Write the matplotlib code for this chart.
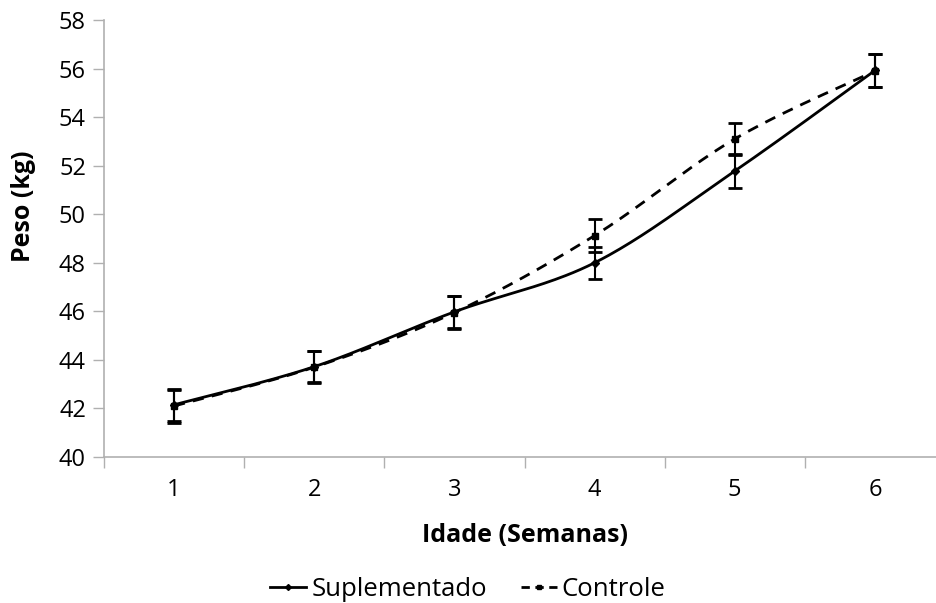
import numpy as np
import matplotlib
matplotlib.use("Agg")
from matplotlib import pyplot as plt
from matplotlib.lines import Line2D

semanas = [1, 2, 3, 4, 5, 6]
suplementado = [42.15, 43.72, 45.98, 48.0, 51.78, 55.92]
suplementado_err = [0.65, 0.65, 0.65, 0.65, 0.68, 0.68]
controle = [42.1, 43.7, 45.95, 49.12, 53.1, 55.9]
controle_err = [0.68, 0.65, 0.68, 0.68, 0.65, 0.68]


def suave(x, y, n=40):
    # curva suavizada tipo Excel (Catmull-Rom -> Bezier)
    x = np.asarray(x, float)
    y = np.asarray(y, float)
    px, py = [], []
    for i in range(len(x) - 1):
        x0, y0 = (x[i - 1], y[i - 1]) if i > 0 else (x[i], y[i])
        x3, y3 = (x[i + 2], y[i + 2]) if i + 2 < len(x) else (x[i + 1], y[i + 1])
        c1x = x[i] + (x[i + 1] - x0) / 6
        c1y = y[i] + (y[i + 1] - y0) / 6
        c2x = x[i + 1] - (x3 - x[i]) / 6
        c2y = y[i + 1] - (y3 - y[i]) / 6
        t = np.linspace(0, 1, n)
        px.extend((1 - t) ** 3 * x[i] + 3 * (1 - t) ** 2 * t * c1x + 3 * (1 - t) * t ** 2 * c2x + t ** 3 * x[i + 1])
        py.extend((1 - t) ** 3 * y[i] + 3 * (1 - t) ** 2 * t * c1y + 3 * (1 - t) * t ** 2 * c2y + t ** 3 * y[i + 1])
    return px, py


plt.rcParams['font.family'] = ['Open Sans', 'DejaVu Sans']

fig = plt.figure(figsize=(9.36, 6.03), dpi=100)
ax = fig.add_axes([104 / 936, 1 - 457 / 603, (945 - 104) / 936, (457 - 20) / 603])

sx, sy = suave(semanas, suplementado)
ax.plot(sx, sy, color='black', lw=2.0, zorder=3)
cx, cy = suave(semanas, controle)
ax.plot(cx, cy, color='black', lw=2.0, ls=(0, (4, 3)), zorder=3)

ax.errorbar(semanas, suplementado, yerr=suplementado_err, fmt='D', ms=4, color='black',
            ecolor='black', elinewidth=1.5, capsize=5, capthick=2, zorder=4)
ax.errorbar(semanas, controle, yerr=controle_err, fmt='s', ms=4, color='black',
            ecolor='black', elinewidth=1.5, capsize=5, capthick=2, zorder=4)

ax.set_xlim(0.5, 6.5)
ax.set_ylim(40, 58)
ax.set_yticks(range(40, 59, 2))
ax.set_xticks(semanas)
ax.set_xticks(np.arange(0.5, 6.6, 1), minor=True)
ax.tick_params(axis='x', which='major', length=0, labelsize=17, pad=15)
ax.tick_params(axis='x', which='minor', length=8, width=1, color='#b0b0b0', direction='out')
ax.tick_params(axis='y', length=8, width=1, color='#b0b0b0', labelsize=17, pad=5)

for s in ['top', 'right']:
    ax.spines[s].set_visible(False)
for s in ['left', 'bottom']:
    ax.spines[s].set_color('#b0b0b0')
    ax.spines[s].set_linewidth(1.2)

ax.set_ylabel('Peso (kg)', fontsize=18, fontweight='bold')
ax.set_xlabel('Idade (Semanas)', fontsize=18, fontweight='bold')
ax.yaxis.set_label_coords(-0.081, 0.574)
ax.xaxis.set_label_coords(0.5, -0.15)

handles = [
    Line2D([], [], color='black', lw=2, marker='D', ms=3),
    Line2D([], [], color='black', lw=2, ls=(0, (3, 2)), marker='s', ms=3),
]
fig.legend(handles, ['Suplementado', 'Controle'], loc='center', bbox_to_anchor=(0.5, 1 - 589 / 603),
           ncol=2, frameon=False, fontsize=18.5, handlelength=1.4, handletextpad=0.2, columnspacing=1.3)

fig.savefig('out.png', dpi=100)
